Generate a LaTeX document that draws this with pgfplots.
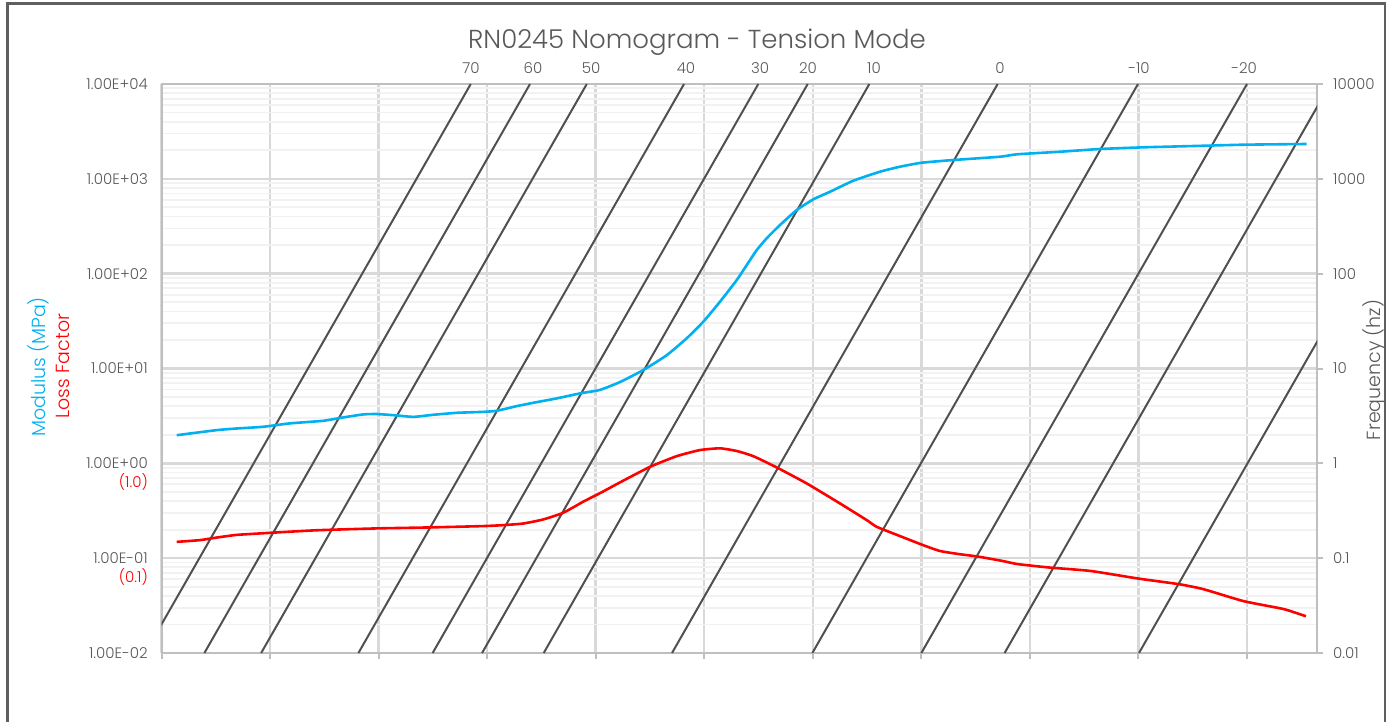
\documentclass[border=0pt]{standalone}
\usepackage{fontspec}
\setmainfont{Poppins}[UprightFont={* Light}]
\usepackage{pgfplots}
\usepackage{pgfplotstable}
\pgfplotsset{compat=1.18}
\definecolor{txt}{HTML}{595959}
\definecolor{mblue}{HTML}{00B0F0}
\definecolor{mred}{HTML}{FF0000}
\definecolor{gmaj}{HTML}{D9D9D9}
\definecolor{gmin}{HTML}{F2F2F2}
\definecolor{axl}{HTML}{BFBFBF}
\definecolor{iso}{HTML}{505050}
\definecolor{frame}{HTML}{5F5F5F}

\pgfplotstableread{
x y
0.140 1.98
0.509 2.24
0.693 2.33
0.938 2.43
1.184 2.64
1.491 2.81
1.675 3.05
1.859 3.28
1.982 3.31
2.167 3.20
2.320 3.09
2.504 3.25
2.719 3.41
2.965 3.49
3.088 3.58
3.272 4.01
3.425 4.35
3.641 4.84
3.855 5.46
4.040 5.95
4.224 7.20
4.438 9.62
4.654 13.8
4.838 20.8
4.991 31.1
5.145 50.6
5.299 85.5
5.391 123
5.483 177
5.575 236
5.698 326
5.852 469
6.005 608
6.159 731
6.373 955
6.619 1189
6.803 1342
7.003 1479
7.294 1579
7.724 1710
7.878 1813
8.277 1931
8.645 2063
9.045 2149
9.505 2218
9.966 2290
10.550 2330
}\modulus

\pgfplotstableread{
x y
0.140 0.1486
0.355 0.155
0.509 0.165
0.693 0.176
1.000 0.185
1.430 0.197
1.982 0.206
2.473 0.211
2.965 0.218
3.149 0.223
3.333 0.232
3.517 0.256
3.701 0.301
3.886 0.395
4.040 0.485
4.224 0.630
4.500 0.918
4.746 1.19
4.960 1.38
5.145 1.44
5.299 1.35
5.452 1.19
5.667 0.906
5.944 0.614
6.250 0.378
6.497 0.252
6.589 0.214
6.803 0.171
7.018 0.137
7.172 0.119
7.356 0.110
7.521 0.104
7.743 0.0937
7.890 0.0865
8.185 0.0796
8.560 0.0733
9.005 0.0608
9.373 0.0532
9.599 0.0471
9.970 0.0352
10.341 0.0290
10.543 0.0244
}\lossfactor

\begin{document}
\begin{tikzpicture}
\path[use as bounding box] (0pt,0pt) rectangle (1392pt,721pt);
\draw[frame, line width=2.5pt] (7.5pt,-10pt) -- (7.5pt,717.5pt) -- (1385pt,717.5pt) -- (1385pt,-10pt);

\node[text=txt, font=\fontsize{26}{31}\selectfont] at (697pt,679pt) {RN0245 Nomogram - Tension Mode};
\node[text=mblue, rotate=90, font=\fontsize{19}{23}\selectfont] at (38pt,354pt) {Modulus (MPa)};
\node[text=mred, rotate=90, font=\fontsize{19}{23}\selectfont] at (63pt,355pt) {Loss Factor};
\node[text=txt, rotate=90, font=\fontsize{19}{23}\selectfont] at (1374pt,351pt) {Frequency (hz)};

\begin{axis}[
  at={(161.5pt,68pt)}, anchor=south west, scale only axis,
  width=1155.5pt, height=569pt,
  xmin=0, xmax=10.645, ymode=log, ymin=0.01, ymax=10000,
  axis line style={draw=axl, line width=2pt},
  major tick length=0pt, minor tick length=0pt,
  xtick={0,1,2,3,4,5,6,7,8,9,10}, xticklabels={},
  xtick pos=lower, xticklabel pos=upper,
  extra x ticks={2.851,3.422,3.957,4.832,5.514,5.956,6.564,7.725,9.005,9.973},
  extra x tick labels={70,60,50,40,30,20,10,0,-10,-20},
  extra x tick style={grid=none},
  xticklabel style={font=\fontsize{15}{18}\selectfont, text=txt, inner sep=0pt, anchor=base, yshift=10.5pt},
  ytick={0.01,0.1,1,10,100,1000,10000},
  yticklabels={1.00E-02,1.00E-01,1.00E+00,1.00E+01,1.00E+02,1.00E+03,1.00E+04},
  extra y ticks={0.634,0.063},
  extra y tick labels={\textcolor{mred}{(1.0)},\textcolor{mred}{(0.1)}},
  extra y tick style={grid=none},
  ytick pos=left,
  yticklabel style={font=\fontsize{15}{18}\selectfont, text=txt, inner sep=0pt, anchor=east, xshift=-13.5pt},
  grid=both,
  major grid style={draw=gmaj, line width=2.4pt},
  minor grid style={draw=gmin, line width=1.8pt},
]
\addplot[iso, line width=2pt] coordinates {(-0.151,0.01) (2.849,10000)};
\addplot[iso, line width=2pt] coordinates {(0.395,0.01) (3.395,10000)};
\addplot[iso, line width=2pt] coordinates {(0.918,0.01) (3.918,10000)};
\addplot[iso, line width=2pt] coordinates {(1.814,0.01) (4.814,10000)};
\addplot[iso, line width=2pt] coordinates {(2.498,0.01) (5.498,10000)};
\addplot[iso, line width=2pt] coordinates {(2.953,0.01) (5.953,10000)};
\addplot[iso, line width=2pt] coordinates {(3.521,0.01) (6.521,10000)};
\addplot[iso, line width=2pt] coordinates {(4.703,0.01) (7.703,10000)};
\addplot[iso, line width=2pt] coordinates {(5.996,0.01) (8.996,10000)};
\addplot[iso, line width=2pt] coordinates {(7.000,0.01) (10.000,10000)};
\addplot[iso, line width=2pt] coordinates {(7.767,0.01) (10.767,10000)};
\addplot[iso, line width=2pt] coordinates {(9.005,0.01) (12.005,10000)};
\addplot[mblue, line width=2.6pt, line join=round, smooth, tension=0.3] table[x=x,y=y] {\modulus};
\addplot[mred, line width=2.6pt, line join=round, smooth, tension=0.3] table[x=x,y=y] {\lossfactor};
\node[text=txt, font=\fontsize{15}{18}\selectfont, inner sep=0pt, anchor=base west] at (rel axis cs:0,1) [yshift=10.5pt, xshift=-1pt] {Temperature (°C)};
\end{axis}

\begin{axis}[
  at={(161.5pt,68pt)}, anchor=south west, scale only axis,
  width=1155.5pt, height=569pt,
  xmin=0, xmax=10.645, ymode=log, ymin=0.01, ymax=10000,
  axis line style={draw=none},
  tick align=outside, major tick length=6pt, minor tick length=0pt,
  tick style={draw=axl, line width=2pt},
  xtick={0,1,2,3,4,5,6,7,8,9,10}, xticklabels={}, xtick pos=lower,
  ytick={0.01,0.1,1,10,100,1000,10000},
  yticklabels={0.01,0.1,1,10,100,1000,10000},
  ytick pos=right,
  yticklabel style={font=\fontsize{15}{18}\selectfont, text=txt, inner sep=0pt, anchor=west, xshift=10pt},
]
\end{axis}
\end{tikzpicture}
\end{document}
